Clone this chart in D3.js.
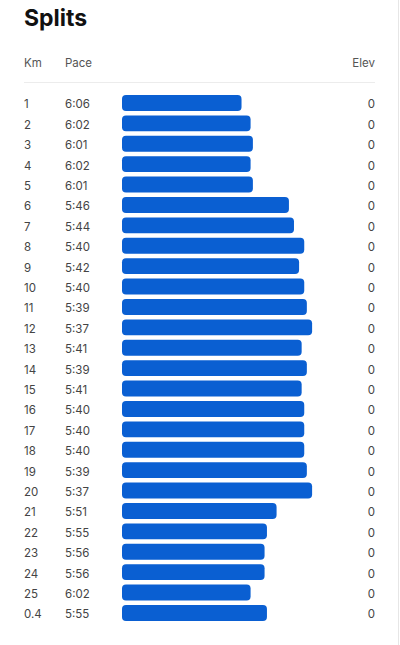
<!DOCTYPE html>
<html>
<head>
<meta charset="utf-8">
<script src="https://cdn.jsdelivr.net/npm/d3@7"></script>
<style>
  html, body { margin: 0; padding: 0; background: #fff; }
  svg { display: block; font-family: Inter, "Noto Sans", sans-serif; }
</style>
</head>
<body>
<svg id="chart" width="400" height="645"></svg>
<script>
// split data
var kms = ['1','2','3','4','5','6','7','8','9','10','11','12','13','14','15','16','17','18','19','20','21','22','23','24','25','0.4'];
var paces = ['6:06','6:02','6:01','6:02','6:01','5:46','5:44','5:40','5:42','5:40','5:39','5:37','5:41','5:39','5:41','5:40','5:40','5:40','5:39','5:37','5:51','5:55','5:56','5:56','6:02','5:55'];
var elevs = [0,0,0,0,0,0,0,0,0,0,0,0,0,0,0,0,0,0,0,0,0,0,0,0,0,0];

var headers = ['Km', 'Pace', 'Elev'];

var rows = kms.map((k, i) => {
    var p = paces[i].split(':');
    var secs = +p[0] * 60 + +p[1];
    return { km: k, pace: paces[i], elev: elevs[i], speed: 1000 / secs };
});

var svg = d3.select('#chart');

// right edge divider
svg.append('line')
    .attr('x1', 398.5).attr('x2', 398.5)
    .attr('y1', 0).attr('y2', 645)
    .attr('stroke', '#e6e6e6');

svg.append('text')
    .attr('x', 24).attr('y', 26)
    .attr('font-size', 23).attr('font-weight', 700)
    .attr('fill', '#111')
    .text('Splits');

// header row
svg.append('text').attr('x', 24).attr('y', 67).attr('font-size', 11.5).attr('fill', '#555').text(headers[0]);
svg.append('text').attr('x', 65).attr('y', 67).attr('font-size', 11.5).attr('fill', '#555').text(headers[1]);
svg.append('text').attr('x', 375).attr('y', 67).attr('font-size', 11.5).attr('fill', '#555')
    .attr('text-anchor', 'end').text(headers[2]);

svg.append('line')
    .attr('x1', 24).attr('x2', 375)
    .attr('y1', 82.5).attr('y2', 82.5)
    .attr('stroke', '#ececec');

var y = d3.scaleBand()
    .domain(d3.range(rows.length))
    .range([92.76, 623.16])
    .paddingInner(0.22)
    .paddingOuter(0.11);

// bar length goes with speed, not from zero
var x = d3.scaleLinear()
    .domain([2.334, 2.967])
    .range([0, 190]);

var g = svg.append('g');

g.selectAll('.bar')
    .data(rows)
    .join('rect')
    .classed('bar', true)
    .attr('x', 122)
    .attr('y', (d, i) => y(i))
    .attr('width', d => x(d.speed))
    .attr('height', y.bandwidth())
    .attr('rx', 4)
    .attr('fill', '#0a5fd2');

var mid = i => y(i) + y.bandwidth() / 2 + 1.5;

g.selectAll('.km')
    .data(rows)
    .join('text')
    .classed('km', true)
    .attr('x', 24)
    .attr('y', (d, i) => mid(i))
    .attr('dy', '0.35em')
    .attr('font-size', 11.5)
    .attr('fill', '#444')
    .text(d => d.km);

g.selectAll('.pace')
    .data(rows)
    .join('text')
    .classed('pace', true)
    .attr('x', 65)
    .attr('y', (d, i) => mid(i))
    .attr('dy', '0.35em')
    .attr('font-size', 11.5)
    .attr('fill', '#444')
    .text(d => d.pace);

g.selectAll('.elev')
    .data(rows)
    .join('text')
    .classed('elev', true)
    .attr('x', 375)
    .attr('y', (d, i) => mid(i))
    .attr('dy', '0.35em')
    .attr('text-anchor', 'end')
    .attr('font-size', 11.5)
    .attr('fill', '#444')
    .text(d => d.elev);
</script>
</body>
</html>
